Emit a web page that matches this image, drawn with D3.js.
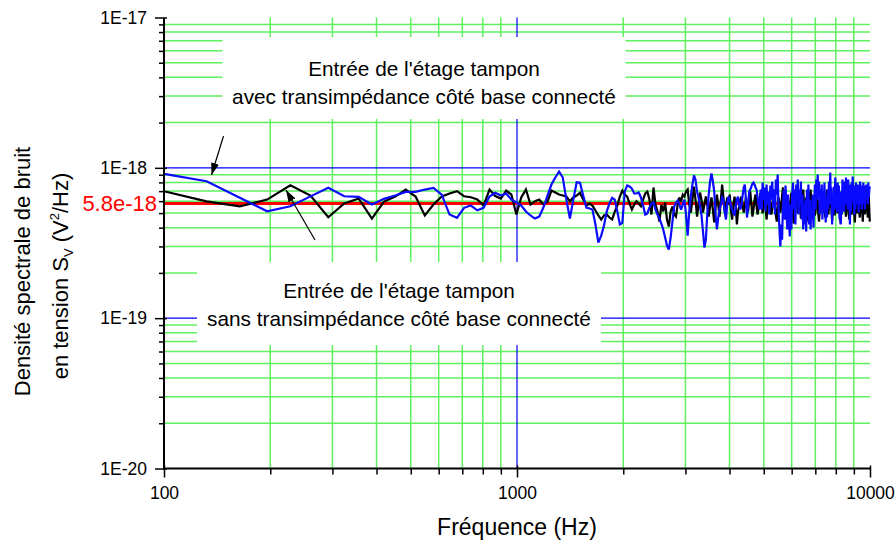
<!DOCTYPE html>
<html>
<head>
<meta charset="utf-8">
<script src="https://cdn.jsdelivr.net/npm/d3@7"></script>
<style>
  body { margin: 0; background: #fff; }
  svg { display: block; }
  text { font-family: "Liberation Sans", Arial, Helvetica, sans-serif; }
</style>
</head>
<body>
<svg id="chart" width="896" height="542"></svg>
<script>
// Spectrum bins: first bin and bin spacing (Hz)
const fStart = 100;
const fStep = 32;

// Noise spectral density, in units of 1e-19 V²/Hz
// without transimpedance on the base side (black)
const sansTransimp = [
  6.99, 5.99, 5.55, 6.15, 7.66, 6.54, 4.69, 5.79, 6.25, 4.60,
  5.97, 6.44, 7.17, 6.44, 4.82, 5.70, 6.44, 6.75, 6.99, 6.47,
  6.37, 6.15, 5.61, 7.17, 6.49, 6.25, 7.06, 6.64, 4.89, 6.35,
  7.17, 5.70, 5.99, 6.15, 5.70, 5.97, 7.06, 6.85, 6.64, 6.54,
  6.44, 5.99, 6.35, 6.54, 6.82, 6.15, 5.61, 5.79, 5.61, 5.20,
  4.82, 4.53, 4.82, 4.89, 4.67, 4.53, 5.12, 5.61, 6.44, 7.06,
  6.64, 6.44, 5.79, 5.28, 5.70, 5.99, 5.79, 5.55, 6.15, 6.75,
  6.96, 6.15, 4.89, 7.40, 5.70, 5.12, 4.39, 5.70, 5.12, 5.88,
  4.53, 4.07, 5.12, 5.53, 4.89, 4.74, 5.70, 6.35, 5.97, 6.64,
  6.44, 6.96, 7.17, 5.70, 5.04, 6.15, 7.51, 6.15, 4.74, 5.70,
  6.85, 6.15, 5.04, 5.70, 6.44, 5.70, 4.74, 5.53, 6.35, 5.28,
  4.33, 5.44, 6.64, 5.70, 4.74, 6.15, 7.74, 6.35, 5.12, 5.53,
  6.35, 5.70, 6.64, 5.28, 4.53, 5.53, 6.44, 5.70, 4.20, 5.12,
  5.53, 6.15, 6.44, 5.70, 5.04, 5.53, 6.35, 5.70, 5.12, 6.15,
  6.96, 5.70, 4.74, 5.28, 6.15, 6.64, 5.53, 4.89, 5.44, 6.15,
  6.85, 5.70, 4.97, 5.61, 6.44, 5.44, 4.53, 5.28, 6.15, 6.75,
  5.70, 4.89, 5.36, 6.15, 7.17, 5.88, 4.82, 4.39, 5.28, 6.35,
  5.70, 5.04, 5.53, 6.54, 7.40, 6.15, 5.12, 4.53, 5.44, 6.25,
  5.61, 4.82, 5.28, 6.15, 6.85, 5.70, 4.67, 4.26, 5.28, 6.35,
  6.96, 5.79, 4.97, 5.61, 6.54, 5.53, 4.60, 5.12, 6.15, 7.17,
  5.88, 4.97, 5.44, 6.35, 5.70, 4.74, 4.39, 5.36, 6.44, 7.17,
  5.97, 5.04, 5.53, 6.35, 5.61, 4.82, 5.20, 6.15, 6.85, 5.70,
  4.89, 4.39, 5.28, 6.25, 6.96, 5.79, 5.04, 5.61, 6.54, 5.44,
  4.67, 5.28, 6.25, 7.17, 5.88, 4.89, 5.44, 6.44, 7.40, 6.15,
  5.12, 4.46, 5.36, 6.35, 5.61, 4.82, 5.28, 6.15, 6.96, 5.79,
  4.97, 5.44, 6.44, 5.70, 4.67, 4.26, 5.20, 6.25, 7.06, 5.88,
  5.12, 5.61, 6.64, 5.53, 4.74, 5.28, 6.25, 7.28, 5.97, 4.97,
  4.53, 5.44, 6.44, 5.70, 4.89, 5.36, 6.35, 7.17, 5.79, 4.82,
  4.33, 5.28, 6.25, 6.85, 5.70, 4.97, 5.53, 6.54, 5.61, 4.67,
  5.20, 6.15, 7.06, 5.88, 5.04, 4.39, 5.36, 6.35, 5.70, 4.89,
  5.44, 6.44, 7.28, 6.06, 5.12, 4.67, 5.61, 6.44, 5.12, 4.39
];

// with transimpedance on the base side (blue)
const avecTransimp = [
  9.12, 8.14, 6.32, 5.14, 5.55, 6.46, 7.36, 6.47, 6.41, 5.70,
  6.22, 6.54, 6.92, 6.92, 7.17, 7.36, 6.64, 4.89, 4.65, 5.42,
  5.61, 5.22, 5.42, 6.44, 6.82, 6.54, 6.75, 6.15, 5.88, 5.61,
  5.12, 4.82, 4.60, 4.74, 5.44, 6.54, 7.74, 8.62, 9.45, 8.62,
  6.15, 4.60, 6.15, 8.02, 7.95, 6.54, 5.44, 5.36, 5.28, 4.20,
  3.18, 3.54, 4.13, 5.14, 5.79, 6.32, 6.15, 5.12, 4.20, 4.31,
  6.99, 7.63, 7.51, 7.28, 6.75, 6.75, 6.85, 6.35, 5.61, 4.89,
  4.97, 5.44, 5.79, 5.88, 5.28, 4.89, 4.60, 4.26, 3.89, 3.44,
  3.04, 2.86, 3.44, 4.39, 5.53, 5.88, 6.06, 5.70, 5.28, 5.70,
  6.15, 4.89, 3.54, 5.12, 6.54, 7.74, 8.89, 8.36, 6.96, 6.35,
  5.53, 4.82, 3.77, 2.95, 3.33, 4.97, 6.64, 8.11, 9.17, 8.11,
  6.96, 4.89, 3.89, 4.67, 5.28, 5.70, 6.35, 6.15, 5.12, 4.53,
  5.70, 6.44, 6.15, 5.61, 5.28, 4.97, 4.89, 5.44, 6.15, 6.44,
  5.70, 5.28, 5.61, 6.54, 7.40, 7.74, 6.15, 4.67, 5.70, 6.96,
  7.17, 7.51, 7.86, 7.98, 7.74, 7.40, 7.17, 6.35, 5.61, 5.28,
  7.17, 5.28, 7.98, 6.15, 7.40, 5.12, 7.74, 5.70, 6.96, 4.89,
  7.63, 6.15, 8.11, 5.44, 7.17, 4.89, 8.36, 6.64, 9.03, 5.28,
  3.89, 3.00, 4.20, 3.33, 5.70, 7.17, 4.53, 7.63, 5.70, 3.89,
  6.64, 4.89, 3.49, 5.70, 3.89, 6.64, 7.98, 5.28, 7.17, 4.20,
  7.74, 6.15, 8.36, 4.89, 7.17, 5.70, 8.11, 4.53, 6.64, 3.89,
  5.70, 4.20, 6.15, 3.77, 7.17, 4.89, 7.74, 4.20, 6.15, 3.89,
  5.44, 4.53, 6.64, 4.01, 5.70, 7.74, 5.28, 8.36, 6.15, 9.03,
  6.64, 8.11, 4.89, 7.17, 5.28, 7.74, 4.53, 6.96, 5.12, 7.98,
  5.70, 4.33, 6.35, 4.67, 7.17, 5.28, 8.11, 5.70, 9.31, 6.15,
  7.40, 4.20, 6.64, 4.89, 7.51, 5.28, 8.62, 6.15, 7.74, 5.04,
  7.98, 5.70, 7.63, 4.53, 6.96, 4.20, 6.15, 4.89, 8.36, 6.15,
  7.17, 5.12, 8.11, 5.70, 8.62, 6.35, 7.40, 5.28, 8.36, 5.70,
  7.74, 4.20, 6.64, 5.12, 7.98, 5.88, 8.75, 6.35, 7.63, 4.89,
  6.96, 5.28, 7.98, 5.70, 7.40, 6.15, 7.74, 5.04, 7.17, 5.70,
  8.11, 6.15, 7.63, 5.28, 7.40, 5.79, 7.98, 6.44, 7.63, 5.28,
  7.17, 6.15, 7.74, 6.64, 7.40, 5.70, 7.98, 6.35, 7.17, 7.51
];
const unit = 1e-19;

// Axis ticks and labels
const xTicks = [100, 1000, 10000];
const xTickLabels = ["100", "1000", "10000"];
const yTicks = [1e-17, 1e-18, 1e-19, 1e-20];
const yTickLabels = ["1E-17", "1E-18", "1E-19", "1E-20"];

// Reference level (red line) and its printed label
const refLevel = 5.8e-19;
const refLabel = "5.8e-18";

// Annotation texts
const noteAvec = ["Entrée de l'étage tampon", "avec transimpédance côté base connecté"];
const noteSans = ["Entrée de l'étage tampon", "sans transimpédance côté base connecté"];

const svg = d3.select("#chart");
const FONT = '"Liberation Sans", Arial, Helvetica, sans-serif';

const x = d3.scaleLog().domain([100, 10000]).range([164, 870]);
const y = d3.scaleLog().domain([1e-20, 1e-17]).range([468.5, 17.5]);
const [x0, x1] = x.range();
const [yb, yt] = y.range();

// minor grid positions (2..9 within each decade)
const xMinor = [], yMinor = [];
[100, 1000].forEach(d => { for (let m = 2; m <= 9; m++) xMinor.push(m * d); });
[1e-20, 1e-19, 1e-18].forEach(d => { for (let m = 2; m <= 9; m++) yMinor.push(m * d); });

const GREEN = "#5ef05e";
const grid = svg.append("g");
grid.selectAll("line.vx").data(xMinor).join("line")
  .attr("x1", d => x(d)).attr("x2", d => x(d))
  .attr("y1", yt).attr("y2", yb)
  .attr("stroke", GREEN).attr("stroke-width", 1.5);
grid.selectAll("line.hy").data(yMinor).join("line")
  .attr("x1", x0).attr("x2", x1)
  .attr("y1", d => y(d)).attr("y2", d => y(d))
  .attr("stroke", GREEN).attr("stroke-width", 1.5);
// decade lines
grid.selectAll("line.dh").data([1e-18, 1e-19]).join("line")
  .attr("x1", x0).attr("x2", x1)
  .attr("y1", d => y(d)).attr("y2", d => y(d))
  .attr("stroke", "#0000ff").attr("stroke-width", 1.2);
grid.selectAll("line.dv").data([1000]).join("line")
  .attr("x1", d => x(d)).attr("x2", d => x(d))
  .attr("y1", yt).attr("y2", yb)
  .attr("stroke", "#0000ff").attr("stroke-width", 1.2);

// annotation backgrounds
const boxes = [
  { x: 222.5, y: 37, w: 403, h: 82 },
  { x: 197, y: 262, w: 404, h: 83 }
];
svg.append("g").selectAll("rect").data(boxes).join("rect")
  .attr("x", d => d.x).attr("y", d => d.y)
  .attr("width", d => d.w).attr("height", d => d.h)
  .attr("fill", "#fff");

// reference level
svg.append("line")
  .attr("x1", x0).attr("x2", x1)
  .attr("y1", y(refLevel)).attr("y2", y(refLevel))
  .attr("stroke", "#ff0000").attr("stroke-width", 3);

// spectra
const n = Math.min(sansTransimp.length, avecTransimp.length);
const freqs = d3.range(n).map(i => fStart + i * fStep);
const line = d3.line()
  .x(d => x(d[0]))
  .y(d => y(d[1] * unit));
svg.append("path")
  .attr("d", line(freqs.map((f, i) => [f, sansTransimp[i]])))
  .attr("fill", "none").attr("stroke", "#000").attr("stroke-width", 2.2)
  .attr("stroke-linejoin", "miter").attr("stroke-miterlimit", 3);
svg.append("path")
  .attr("d", line(freqs.map((f, i) => [f, avecTransimp[i]])))
  .attr("fill", "none").attr("stroke", "#0a0aff").attr("stroke-width", 2.2)
  .attr("stroke-linejoin", "miter").attr("stroke-miterlimit", 3);

// arrows pointing at each curve
const defs = svg.append("defs");
defs.append("marker").attr("id", "head")
  .attr("viewBox", "0 0 12 8").attr("refX", 12).attr("refY", 4)
  .attr("markerWidth", 12).attr("markerHeight", 8)
  .attr("markerUnits", "userSpaceOnUse").attr("orient", "auto")
  .append("path").attr("d", "M0,0 L12,4 L0,8 Z").attr("fill", "#000");
const arrows = [
  { from: [223.5, 136], to: [211.5, 175] },
  { from: [315, 240], to: [286, 190] }
];
svg.append("g").selectAll("line").data(arrows).join("line")
  .attr("x1", d => d.from[0]).attr("y1", d => d.from[1])
  .attr("x2", d => d.to[0]).attr("y2", d => d.to[1])
  .attr("stroke", "#000").attr("stroke-width", 1.2)
  .attr("marker-end", "url(#head)");

// annotation texts
const notes = [
  { lines: noteAvec, cx: 424, y0: 75.5 },
  { lines: noteSans, cx: 399, y0: 297.5 }
];
notes.forEach(nt => {
  nt.lines.forEach((t, i) => {
    svg.append("text")
      .attr("x", nt.cx).attr("y", nt.y0 + i * 28)
      .attr("text-anchor", "middle")
      .attr("font-size", 20.8).attr("fill", "#000")
      .text(t);
  });
});

// axes
function styleAxis(g) {
  g.select(".domain").remove();
  g.attr("font-family", FONT);
}
const yMinorAxis = d3.axisLeft(y).tickValues(yMinor).tickSize(5).tickFormat("");
svg.append("g").attr("transform", `translate(${x0},0)`).call(yMinorAxis).call(styleAxis)
  .selectAll(".tick line").attr("stroke", "#000").attr("stroke-width", 1.5);
const yMajorAxis = d3.axisLeft(y).tickValues(yTicks).tickSize(9).tickPadding(8)
  .tickFormat((d, i) => yTickLabels[i]);
const gy = svg.append("g").attr("transform", `translate(${x0},0)`).call(yMajorAxis).call(styleAxis);
gy.selectAll(".tick line").attr("x1", 3).attr("stroke", "#000").attr("stroke-width", 1.5);
gy.selectAll(".tick text").attr("font-size", 17.5).attr("fill", "#000");

const xMinorAxis = d3.axisBottom(x).tickValues(xMinor).tickSize(6).tickFormat("");
svg.append("g").attr("transform", `translate(0,${yb})`).call(xMinorAxis).call(styleAxis)
  .selectAll(".tick line").attr("stroke", "#000").attr("stroke-width", 1.5);
const xMajorAxis = d3.axisBottom(x).tickValues(xTicks).tickSize(9).tickPadding(9)
  .tickFormat((d, i) => xTickLabels[i]);
const gx = svg.append("g").attr("transform", `translate(0,${yb})`).call(xMajorAxis).call(styleAxis);
gx.selectAll(".tick line").attr("y1", -3).attr("stroke", "#000").attr("stroke-width", 1.5);
gx.selectAll(".tick text").attr("font-size", 17.5).attr("fill", "#000");

// axis lines
svg.append("line").attr("x1", x0).attr("x2", x0).attr("y1", yt).attr("y2", yb + 1)
  .attr("stroke", "#000").attr("stroke-width", 2);
svg.append("line").attr("x1", x0 - 1).attr("x2", x1).attr("y1", yb).attr("y2", yb)
  .attr("stroke", "#000").attr("stroke-width", 2);

// reference label
svg.append("text")
  .attr("x", 157).attr("y", y(refLevel) + 7.5)
  .attr("text-anchor", "end").attr("font-size", 22).attr("fill", "#ff0000")
  .text(refLabel);

// axis titles
svg.append("text")
  .attr("x", 517).attr("y", 535)
  .attr("text-anchor", "middle").attr("font-size", 23).attr("fill", "#000")
  .text("Fréquence (Hz)");

svg.append("text")
  .attr("transform", "translate(30,271.5) rotate(-90)")
  .attr("text-anchor", "middle").attr("font-size", 22).attr("fill", "#000")
  .text("Densité spectrale de bruit");

const t2 = svg.append("text")
  .attr("transform", "translate(68,276) rotate(-90)")
  .attr("text-anchor", "middle").attr("font-size", 22).attr("fill", "#000");
t2.append("tspan").text("en tension S");
t2.append("tspan").attr("dy", 5).attr("font-size", 13).text("V");
t2.append("tspan").attr("dy", -5).text(" (V");
t2.append("tspan").attr("dy", -9).attr("font-size", 13).text("2");
t2.append("tspan").attr("dy", 9).text("/Hz)");
</script>
</body>
</html>
